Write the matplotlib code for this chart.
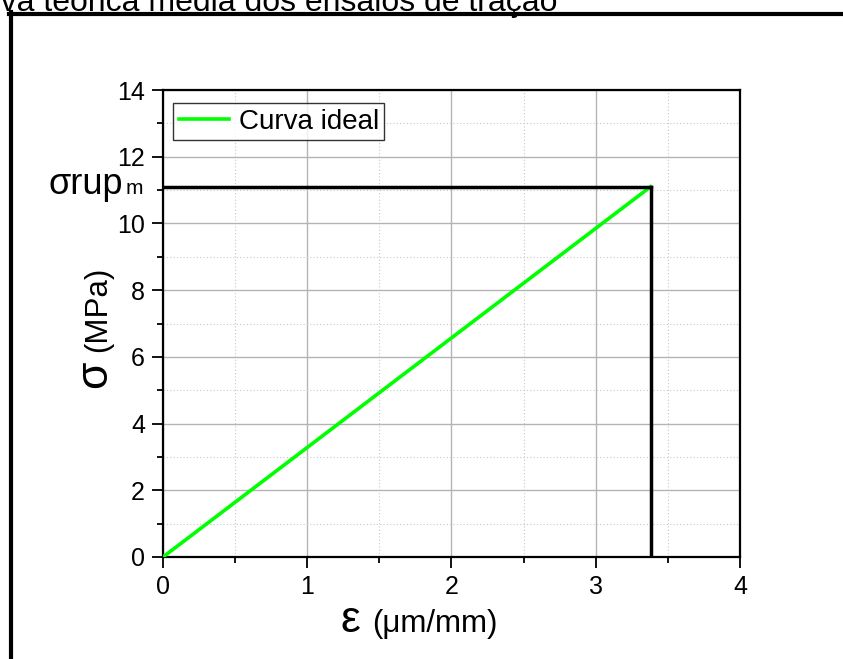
import matplotlib
matplotlib.use("Agg")
import matplotlib.pyplot as plt
from matplotlib.lines import Line2D
from matplotlib.ticker import MultipleLocator

plt.rcParams['font.family'] = ['Liberation Sans', 'DejaVu Sans']

# Data
strain = [0.0, 3.38]          # ε (µm/mm)
stress = [0.0, 11.1]          # σ (MPa)
sigma_rup = 11.1
eps_rup = 3.38
legend_label = "Curva ideal"
title_text = "Curva teórica média dos ensaios de tração"

W, H = 843, 659
fig = plt.figure(figsize=(W / 100, H / 100), dpi=100)

def fx(px):
    return px / W

def fy(py):
    return 1 - py / H

ax = fig.add_axes([fx(163), fy(557), fx(740) - fx(163), fy(90) - fy(557)])

ax.plot(strain, stress, color='#00ff00', lw=2.6, label=legend_label, zorder=3)
ax.plot([0, eps_rup], [sigma_rup, sigma_rup], color='black', lw=2.5, zorder=3,
        solid_capstyle='projecting')
ax.plot([eps_rup, eps_rup], [sigma_rup, 0], color='black', lw=2.5, zorder=3,
        solid_capstyle='projecting')

ax.set_xlim(0, 4)
ax.set_ylim(0, 14)
ax.xaxis.set_major_locator(MultipleLocator(1))
ax.xaxis.set_minor_locator(MultipleLocator(0.5))
ax.yaxis.set_major_locator(MultipleLocator(2))
ax.yaxis.set_minor_locator(MultipleLocator(1))
ax.tick_params(which='major', direction='out', length=8, width=1.3, labelsize=18,
               top=False, right=False, pad=5)
ax.tick_params(which='minor', direction='out', length=4, width=1.3,
               top=False, right=False)
ax.grid(which='major', color='#b4b4b4', lw=1.0, ls='-')
ax.grid(which='minor', color='#c8c8c8', lw=0.8, ls=(0, (1, 2)))
ax.set_axisbelow(True)
for s in ax.spines.values():
    s.set_linewidth(1.6)

leg = ax.legend(loc='upper left', fontsize=20, frameon=True, fancybox=False,
                borderaxespad=0.0, handlelength=1.83, borderpad=0.2,
                handletextpad=0.33, bbox_to_anchor=(10 / 577, 1 - 13 / 467))
leg.get_frame().set_edgecolor('black')
leg.get_frame().set_linewidth(1.0)

# y label: σ (MPa)
fig.text(fx(106), fy(388), 'σ', rotation=90, rotation_mode='anchor',
         ha='left', va='baseline', fontsize=32)
fig.text(fx(106), fy(352), '(MPa)', rotation=90, rotation_mode='anchor',
         ha='left', va='baseline', fontsize=22.5)

# x label: ε (µm/mm)
fig.text(fx(340), fy(632), 'ε', ha='left', va='baseline', fontsize=32)
fig.text(fx(372), fy(632), '(μm/mm)', ha='left', va='baseline', fontsize=22.5)

# σrup_m label
fig.text(fx(49), fy(194), 'σrup', ha='left', va='baseline', fontsize=26)
fig.text(fx(126), fy(194), 'm', ha='left', va='baseline', fontsize=15)

# clipped title
fig.text(fx(-51), fy(10.5), title_text, ha='left', va='baseline', fontsize=23)

# outer frame
fig.add_artist(Line2D([fx(10.5), fx(10.5)], [fy(12), fy(H + 5)], color='black', lw=3,
                      transform=fig.transFigure))
fig.add_artist(Line2D([fx(9), fx(W + 5)], [fy(13.5), fy(13.5)], color='black', lw=3,
                      transform=fig.transFigure))

fig.savefig('out.png', dpi=100)
